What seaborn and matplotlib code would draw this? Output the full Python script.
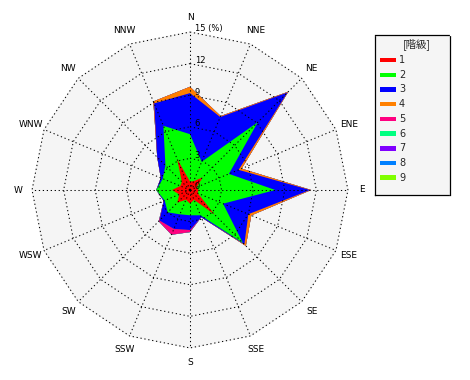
import numpy as np
import seaborn as sns
from matplotlib import pyplot as plt
from matplotlib.patches import Rectangle

# wind rose: frequency (%) of each class per direction
directions = ['N', 'NNE', 'NE', 'ENE', 'E', 'ESE', 'SE', 'SSE',
              'S', 'SSW', 'SW', 'WSW', 'W', 'WNW', 'NW', 'NNW']
class_labels = ['1', '2', '3', '4', '5', '6', '7', '8', '9']
class_colors = ['#ff0000', '#00ff00', '#0000ff', '#ff8000', '#ff0080',
                '#00ff80', '#8000ff', '#0080ff', '#80ff00']

c1 = [0.8, 0.9, 1.7, 0.7, 0.8, 0.8, 3.3, 1.0, 1.3, 1.0, 1.7, 1.1, 1.7, 1.0, 1.1, 3.2]
c2 = [4.5, 2.0, 7.4, 3.3, 7.3, 2.6, 3.8, 1.6, 1.1, 1.5, 1.3, 1.5, 1.5, 1.8, 2.2, 3.4]
c3 = [3.9, 4.6, 4.0, 1.0, 3.3, 2.6, 0.2, 0.2, 1.4, 1.5, 1.1, 0.1, 0.0, 0.2, 1.1, 2.3]
c4 = [0.6, 0.1, 0.1, 0.3, 0.1, 0.3, 0.2, 0.0, 0.0, 0.0, 0.0, 0.0, 0.0, 0.0, 0.0, 0.2]
c5 = [0.0, 0.0, 0.0, 0.0, 0.0, 0.0, 0.0, 0.0, 0.2, 0.6, 0.1, 0.0, 0.0, 0.0, 0.0, 0.0]
c6 = [0.0] * 16
c7 = [0.0] * 16
c8 = [0.0] * 16
c9 = [0.0] * 16

ring_ticks = [0, 3, 6, 9, 12, 15]

sns.set_theme(style='white')
plt.rcParams['font.family'] = ['DejaVu Sans', 'Noto Sans CJK JP']

S = 10.53  # pixels per percent
fig = plt.figure(figsize=(4.7, 3.8), dpi=100)
ax = fig.add_axes([0, 0, 1, 1])
ax.set_xlim(-190 / S, 280 / S)
ax.set_ylim(-190 / S, 190 / S)
ax.axis('off')

theta = np.arange(len(directions)) * 2 * np.pi / len(directions)
sx = np.sin(theta)
cy = np.cos(theta)

def closed(a):
    return np.append(a, a[0])

rmax = ring_ticks[-1]
ax.fill(closed(rmax * sx), closed(rmax * cy), color='#f5f5f5', zorder=0)

stack = np.array([c1, c2, c3, c4, c5, c6, c7, c8, c9])
cum = np.cumsum(stack, axis=0)
for k in range(len(class_labels) - 1, -1, -1):
    r = cum[k]
    ax.fill(closed(r * sx), closed(r * cy), color=class_colors[k], lw=0, zorder=1)

dots = (0, (1.2, 2.6))
for t in ring_ticks[1:]:
    ax.plot(closed(t * sx), closed(t * cy), color='black', lw=0.75, linestyle=dots, zorder=2)
for i in range(len(directions)):
    ax.plot([0, rmax * sx[i]], [0, rmax * cy[i]], color='black', lw=0.75, linestyle=dots, zorder=2)

for i, d in enumerate(directions):
    ax.text(16.35 * sx[i], 16.35 * cy[i], d, ha='center', va='center', fontsize=6.5, color='black')

for t in ring_ticks:
    lab = '%d (%%)' % t if t == rmax else str(t)
    ax.text(0.45, t + 0.3, lab, ha='left', va='center', fontsize=6, color='black', zorder=3)

# legend box
lg = fig.add_axes([375 / 470, 1 - 195 / 380, 75 / 470, 160 / 380])
lg.set_facecolor('#f5f5f5')
lg.set_xlim(0, 75)
lg.set_ylim(160, 0)
lg.set_xticks([])
lg.set_yticks([])
for s in lg.spines.values():
    s.set_linestyle((0, (1, 1)))
    s.set_linewidth(0.9)
    s.set_color('black')
lg.text(42, 9, '[階級]', ha='center', va='center', fontsize=7.5,
        family=['Noto Sans CJK JP', 'DejaVu Sans'])
for i, lab in enumerate(class_labels):
    y = 25 + i * 14.7
    lg.add_patch(Rectangle((5, y - 2.2), 16, 4.5, color=class_colors[i], lw=0))
    lg.text(24, y, lab, ha='left', va='center', fontsize=7)

plt.savefig('out.png', dpi=100)
